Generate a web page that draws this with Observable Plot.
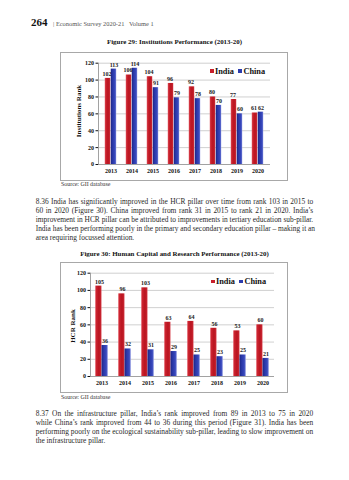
<!DOCTYPE html>
<html>
<head>
<meta charset="utf-8">
<script src="https://cdn.jsdelivr.net/npm/d3@7"></script>
<script src="https://cdn.jsdelivr.net/npm/@observablehq/plot@0.6"></script>
<style>
  html, body { margin: 0; padding: 0; background: #fff; }
  body { width: 349px; height: 480px; position: relative; overflow: hidden; font-family: "Liberation Serif", "Times New Roman", serif; color: #111; }
  .abs { position: absolute; }
  .hdr-num { left: 31px; top: 16px; font-size: 11px; font-weight: bold; }
  .hdr-txt { left: 53px; top: 20px; font-size: 6.4px; color: #555; white-space: nowrap; }
  .figtitle { left: 0; width: 349px; text-align: center; font-size: 6.9px; font-weight: bold; white-space: nowrap; }
  .box { border: 1px solid #a8a8a8; box-sizing: border-box; pointer-events: none; }
  .source { left: 61px; font-size: 5.9px; color: #333; white-space: nowrap; }
  .para { left: 35.7px; width: 277.5px; font-size: 7.4px; color: #2a2a2a; }
  .para div { white-space: nowrap; text-align: justify; text-align-last: justify; height: 9.2px; line-height: 9.2px; }
  .para div.last { text-align-last: left; }
  .ylab { font-size: 7px; font-weight: bold; white-space: nowrap; transform: translate(-50%, -50%) rotate(-90deg); }
  .legend { font-size: 8.3px; font-weight: bold; white-space: nowrap; display: flex; align-items: center; }
  .legend .sw { display: inline-block; width: 3.5px; height: 3.5px; margin-right: 1.5px; }
</style>
</head>
<body>
<svg width="0" height="0" style="position:absolute">
  <defs>
    <linearGradient id="gIndia" x1="0" x2="1" y1="0" y2="0">
      <stop offset="0" stop-color="#e46670"/>
      <stop offset="0.18" stop-color="#cc2430"/>
      <stop offset="0.6" stop-color="#b8141f"/>
      <stop offset="0.9" stop-color="#c92531"/>
      <stop offset="1" stop-color="#d9505a"/>
    </linearGradient>
    <linearGradient id="gChina" x1="0" x2="1" y1="0" y2="0">
      <stop offset="0" stop-color="#1c2684"/>
      <stop offset="0.35" stop-color="#2a38a8"/>
      <stop offset="0.75" stop-color="#3848bc"/>
      <stop offset="0.9" stop-color="#5c6acc"/>
      <stop offset="1" stop-color="#aab0ea"/>
    </linearGradient>
  </defs>
</svg>

<div class="abs hdr-num">264</div>
<div class="abs hdr-txt">| Economic Survey 2020-21 &nbsp; Volume 1</div>

<div class="abs figtitle" style="top:38px">Figure 29: Institutions Performance (2013-20)</div>
<div id="c1" class="abs" style="left:60px; top:52px; width:228px; height:129px;"></div>
<div class="abs box" style="left:60px; top:52px; width:228px; height:129px;"></div>
<div class="abs ylab" style="left:79px; top:111px;">Institutions Rank</div>
<div class="abs legend" style="left:210px; top:66.5px;"><span class="sw" style="background:#c8202c"></span>India<span style="display:inline-block;width:4.5px"></span><span class="sw" style="background:#2c3cae"></span>China</div>
<div class="abs source" style="top:181px">Source: GII database</div>

<div class="abs para" style="top:196.5px">
  <div>8.36 India has significantly improved in the HCR pillar over time from rank 103 in 2015 to</div>
  <div>60 in 2020 (Figure 30). China improved from rank 31 in 2015 to rank 21 in 2020. India’s</div>
  <div>improvement in HCR pillar can be attributed to improvements in tertiary education sub-pillar.</div>
  <div>India has been performing poorly in the primary and secondary education pillar – making it an</div>
  <div class="last">area requiring focussed attention.</div>
</div>

<div class="abs figtitle" style="top:250px">Figure 30: Human Capital and Research Performance (2013-20)</div>
<div id="c2" class="abs" style="left:60px; top:262px; width:228px; height:131px;"></div>
<div class="abs box" style="left:60px; top:262px; width:228px; height:131px;"></div>
<div class="abs ylab" style="left:73px; top:326px;">HCR Rank</div>
<div class="abs legend" style="left:211px; top:277px;"><span class="sw" style="background:#c8202c"></span>India<span style="display:inline-block;width:4.5px"></span><span class="sw" style="background:#2c3cae"></span>China</div>
<div class="abs source" style="top:394px">Source: GII database</div>

<div class="abs para" style="top:408.5px">
  <div>8.37 On the infrastructure pillar, India’s rank improved from 89 in 2013 to 75 in 2020</div>
  <div>while China’s rank improved from 44 to 36 during this period (Figure 31). India has been</div>
  <div>performing poorly on the ecological sustainability sub-pillar, leading to slow improvement on</div>
  <div class="last">the infrastructure pillar.</div>
</div>

<script>
const years = ["2013", "2014", "2015", "2016", "2017", "2018", "2019", "2020"];
const instIndia = [102, 106, 104, 96, 92, 80, 77, 61];
const instChina = [113, 114, 91, 79, 78, 70, 60, 62];
const hcrIndia = [105, 96, 103, 63, 64, 56, 53, 60];
const hcrChina = [36, 32, 31, 29, 25, 23, 25, 21];
const yTicks = [0, 20, 40, 60, 80, 100, 120];

function rows(vals) { return years.map((y, i) => ({year: y, value: vals[i]})); }

function makeChart(india, china, o) {
  const dIndia = rows(india), dChina = rows(china);
  return Plot.plot({
    width: o.width, height: o.height,
    marginLeft: o.ml, marginRight: o.mr, marginTop: o.mt, marginBottom: o.mb,
    style: {fontFamily: "Liberation Serif, serif", fontSize: "6px", fontWeight: "bold", background: "transparent", color: "#111"},
    x: {type: "band", domain: years, padding: 0, tickSize: 0, tickPadding: 4, label: null},
    y: {domain: [0, 120], ticks: yTicks, tickSize: 2.5, tickPadding: 2, label: null},
    marks: [
      Plot.ruleY(yTicks.slice(1), {stroke: "#c4c4c4", strokeWidth: 0.8}),
      Plot.barY(dIndia, {x: "year", y: "value", fill: "url(#gIndia)", insetLeft: o.in1, insetRight: o.in2}),
      Plot.barY(dChina, {x: "year", y: "value", fill: "url(#gChina)", insetLeft: o.in2, insetRight: o.in1}),
      Plot.text(dIndia, {x: "year", y: "value", text: d => String(d.value), dx: o.dxI, dy: -4.5, fontSize: 6, fontWeight: "bold", fill: "#222"}),
      Plot.text(dChina, {x: "year", y: "value", text: d => String(d.value), dx: o.dxC, dy: -4.5, fontSize: 6, fontWeight: "bold", fill: "#222"}),
      Plot.ruleY([0], {stroke: "#8a8a8a", strokeWidth: 0.8}),
      Plot.frame({anchor: "left", stroke: "#8a8a8a", strokeWidth: 0.8})
    ]
  });
}

document.getElementById("c1").appendChild(makeChart(instIndia, instChina, {
  width: 228, height: 129, ml: 38, mr: 18, mt: 10.7, mb: 17, in1: 4.75, in2: 10.75, dxI: -4, dxC: 3
}));
document.getElementById("c2").appendChild(makeChart(hcrIndia, hcrChina, {
  width: 228, height: 131, ml: 30, mr: 14, mt: 10.7, mb: 17, in1: 5.2, in2: 11.5, dxI: -2.5, dxC: 3
}));
</script>
</body>
</html>
